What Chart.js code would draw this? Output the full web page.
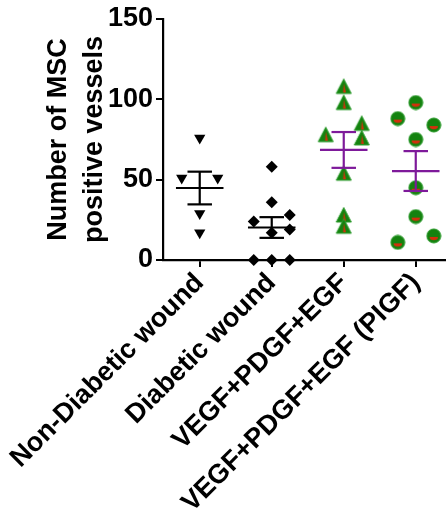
<!DOCTYPE html>
<html><head><meta charset="utf-8">
<script src="https://cdn.jsdelivr.net/npm/chart.js@4/dist/chart.umd.min.js"></script>
<style>html,body{margin:0;padding:0;background:#fff;overflow:hidden}#wrap{width:446px;height:519px;position:relative}</style>
</head><body><div id="wrap"><canvas id="c"></canvas></div>
<script>
// ---- data ----
const categories = ['Non-Diabetic wound', 'Diabetic wound', 'VEGF+PDGF+EGF', 'VEGF+PDGF+EGF (PIGF)'];
const nonDiabeticWound = [76, 51, 51, 29, 17];
const diabeticWound = [58, 36, 24, 28, 17, 19, 0, 0, 0];
const vegfPdgfEgf = [108, 98, 85, 78, 76, 54, 28, 21];
const vegfPdgfEgfPigf = [98, 88, 84, 75, 45, 27, 15, 11];
// column slot of each dot inside its scatter column (-1 left, 0 centre, 1 right)
const nonDiabeticSlots = [0, -1, 1, 0, 0];
const diabeticSlots = [0, 0, -1, 1, 0, 1, -1, 0, 1];
const vegfSlots = [0, 0, 1, -1, 1, 0, 0, 0];
const pigfSlots = [0, -1, 1, 0, 0, 0, 1, -1];
const yTicks = [0, 50, 100, 150];

// ---- styling ----
const FONT = "'Liberation Sans', Arial, sans-serif";
const GREEN = '#14820f', RED = '#d2300c', PURPLE = '#7e1a9a';
const SLOT_W = 0.25, MEAN_HALF = 0.33, CAP_HALF = 0.17;

function makeTriangleImg() {
  const c = document.createElement('canvas'); c.width = 18; c.height = 18;
  const g = c.getContext('2d');
  g.beginPath(); g.moveTo(9, 1.5); g.lineTo(16.5, 16); g.lineTo(1.5, 16); g.closePath();
  g.fillStyle = GREEN; g.fill(); g.lineWidth = 1; g.strokeStyle = '#2a9a2a'; g.stroke();
  g.beginPath(); g.moveTo(9, 6); g.lineTo(11.2, 15); g.lineTo(8.4, 15); g.closePath();
  g.fillStyle = RED; g.fill();
  return c;
}
function makeCircleImg() {
  const c = document.createElement('canvas'); c.width = 16; c.height = 16;
  const g = c.getContext('2d');
  g.beginPath(); g.arc(8, 8, 7, 0, Math.PI * 2);
  g.fillStyle = GREEN; g.fill(); g.lineWidth = 1; g.strokeStyle = '#2a9a2a'; g.stroke();
  g.beginPath(); g.ellipse(8, 9, 4.2, 3.2, 0, 0, Math.PI); g.closePath();
  g.fillStyle = RED; g.fill();
  return c;
}

const groups = [
  {vals: nonDiabeticWound, slots: nonDiabeticSlots, style: {pointStyle: 'triangle', rotation: 180, pointRadius: 6.5, backgroundColor: '#000', borderColor: '#000'}, bar: '#000'},
  {vals: diabeticWound, slots: diabeticSlots, style: {pointStyle: 'rectRot', pointRadius: 6, backgroundColor: '#000', borderColor: '#000'}, bar: '#000'},
  {vals: vegfPdgfEgf, slots: vegfSlots, style: {pointStyle: makeTriangleImg(), pointRadius: 8}, bar: PURPLE},
  {vals: vegfPdgfEgfPigf, slots: pigfSlots, style: {pointStyle: makeCircleImg(), pointRadius: 8}, bar: PURPLE}
];

const datasets = [];
groups.forEach((g, i) => {
  const n = g.vals.length;
  const mean = g.vals.reduce((a, b) => a + b, 0) / n;
  const sd = Math.sqrt(g.vals.reduce((a, b) => a + (b - mean) ** 2, 0) / (n - 1));
  const sem = sd / Math.sqrt(n);
  const seg = (pts) => ({type: 'scatter', data: pts, showLine: true, borderColor: g.bar, borderWidth: 2.2,
    pointRadius: 0, fill: false, order: 0, borderCapStyle: 'butt'});
  datasets.push(seg([{x: i - MEAN_HALF, y: mean}, {x: i + MEAN_HALF, y: mean}]));
  datasets.push(seg([{x: i, y: mean - sem}, {x: i, y: mean + sem}]));
  datasets.push(seg([{x: i - CAP_HALF, y: mean + sem}, {x: i + CAP_HALF, y: mean + sem}]));
  datasets.push(seg([{x: i - CAP_HALF, y: mean - sem}, {x: i + CAP_HALF, y: mean - sem}]));
  datasets.push(Object.assign({type: 'scatter', order: 1, label: categories[i],
    data: g.vals.map((v, k) => ({x: i + g.slots[k] * SLOT_W, y: v})),
    pointBorderWidth: 0, pointHoverRadius: 7}, g.style));
});

const Y_AXIS_RIGHT = 163, X_AXIS_Y = 260, PAD_LEFT = 40, PAD_TOP = 19;

new Chart(document.getElementById('c'), {
  type: 'scatter',
  data: {datasets},
  options: {
    responsive: true, maintainAspectRatio: false, animation: false,
    layout: {autoPadding: false, padding: {left: PAD_LEFT, top: PAD_TOP, right: 0, bottom: 0}},
    plugins: {legend: {display: false}, tooltip: {enabled: false}},
    clip: false,
    scales: {
      x: {
        type: 'linear', min: -0.51, max: 3.42,
        afterBuildTicks: (s) => { s.ticks = categories.map((_, i) => ({value: i})); },
        afterFit: (s) => { s.height = 519 - X_AXIS_Y; s.paddingLeft = 0; s.paddingRight = 0; },
        ticks: {autoSkip: false, maxRotation: 45, minRotation: 45, padding: 0, color: '#000',
          font: {family: FONT, size: 27, weight: 'bold'},
          callback: (v) => categories[v] ?? ''},
        grid: {drawOnChartArea: false, drawTicks: true, tickLength: 7, color: '#000', lineWidth: 2},
        border: {display: true, color: '#000', width: 2.2}
      },
      y: {
        min: 0, max: 150,
        afterBuildTicks: (s) => { s.ticks = yTicks.map(v => ({value: v})); },
        afterFit: (s) => { s.width = Y_AXIS_RIGHT - PAD_LEFT; s.paddingTop = 0; s.paddingBottom = 0; },
        ticks: {padding: 3, color: '#000', font: {family: FONT, size: 27, weight: 'bold'}},
        grid: {drawOnChartArea: false, drawTicks: true, tickLength: 7, color: '#000', lineWidth: 2},
        border: {display: true, color: '#000', width: 2.2},
        title: {display: true, text: ['Number of MSC', 'positive vessels'], color: '#000',
          font: {family: FONT, size: 27, weight: 'bold', lineHeight: 1.35}, padding: {top: 0, bottom: 0}}
      }
    }
  }
});
</script></body></html>
